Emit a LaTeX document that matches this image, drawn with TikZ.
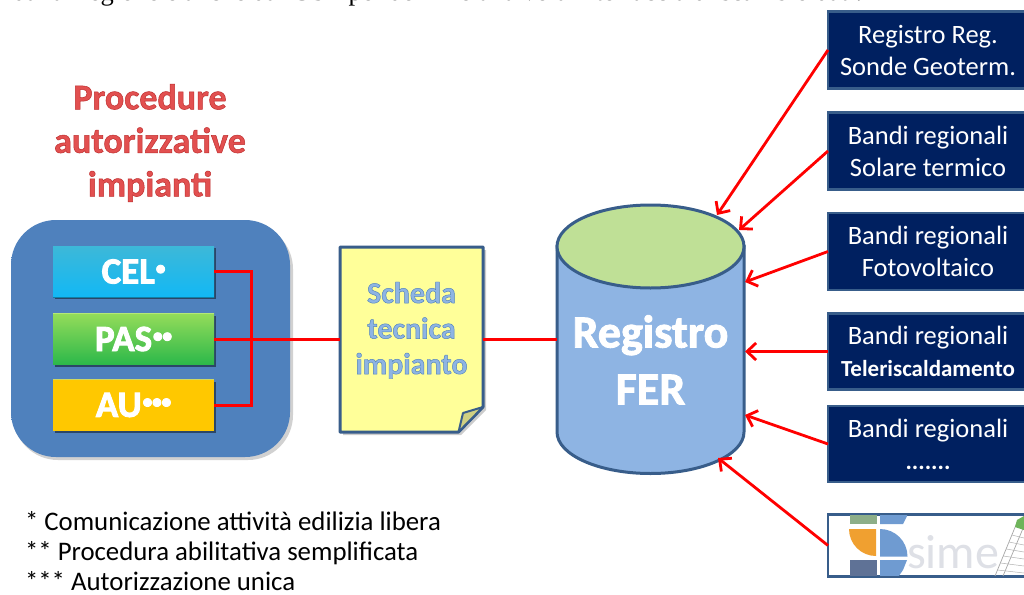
\documentclass[tikz,border=0pt]{standalone}
\usepackage{fontspec}
\setmainfont{Carlito}
\newfontfamily\serifline{Liberation Serif}
\usetikzlibrary{arrows.meta,shadows,calc}
\definecolor{navy}{HTML}{002060}
\definecolor{edgeblue}{HTML}{385D8A}
\definecolor{bigblue}{HTML}{4F81BD}
\definecolor{cylblue}{HTML}{8EB4E3}
\definecolor{cyltop}{HTML}{BFE096}
\definecolor{notey}{HTML}{FFFF99}
\definecolor{titlered}{HTML}{E25050}
\definecolor{foldy}{HTML}{D0D082}
\definecolor{celtop}{HTML}{3DB8D8}
\definecolor{celbot}{HTML}{12B8F5}
\definecolor{celhi}{HTML}{7FF0FF}
\definecolor{cello}{HTML}{1080A8}
\definecolor{pastop}{HTML}{94DC5A}
\definecolor{pasbot}{HTML}{2CB84A}
\definecolor{pashi}{HTML}{B5E878}
\definecolor{paslo}{HTML}{1B8A3A}
\definecolor{aufill}{HTML}{FFC800}
\definecolor{auhi}{HTML}{D0D860}
\definecolor{aulo}{HTML}{C89A00}
\definecolor{logogreen}{HTML}{8DAE88}
\definecolor{logoblue}{HTML}{6F9BD1}
\definecolor{logoorange}{HTML}{F0A030}
\definecolor{logoslate}{HTML}{5F7296}
\definecolor{logotext}{HTML}{DEE0E6}
\definecolor{logochart}{HTML}{6EB45A}
\pgfdeclareverticalshading{panelshade}{100bp}{color(0bp)=(bigblue); color(88bp)=(bigblue); color(100bp)=(cylblue)}
\newcommand{\outl}[3]{\special{pdf:code #2 w #1 RG 2 Tr}#3\special{pdf:code 0 Tr}}
\newcommand{\whitefat}[1]{\outl{1 1 1}{0.9}{#1}}
\newcommand{\supdots}[1]{\raisebox{9pt}{\fontsize{19}{19}\selectfont\kern1pt\whitefat{#1}}}
\tikzset{
  x=1pt,y=-1pt,
  every node/.style={inner sep=0pt,outer sep=0pt},
  bluebox/.style={draw=edgeblue,line width=2.6pt,fill=navy,text=white,minimum width=200pt,
    align=center,font=\fontsize{26.5}{32}\selectfont},
  proc/.style={minimum width=161pt,minimum height=51pt,text=white,
    font=\bfseries\fontsize{37}{37}\selectfont,
    drop shadow={shadow xshift=1.5pt,shadow yshift=-2pt,opacity=.45,fill=black}},
  redline/.style={draw=red,line width=3pt},
  feed/.style={draw=red,line width=2.8pt,-{Straight Barb[length=9pt,width=17pt,line width=2.8pt]}}
}
\begin{document}
\begin{tikzpicture}
\useasboundingbox (0,0) rectangle (1024,594);
\clip (0,0) rectangle (1024,594);
\fill[white] (0,0) rectangle (1024,594);

% clipped line of running text at the very top
\node[anchor=base west,font=\serifline\fontsize{26.5}{26.5}\selectfont,text=black] (topline) at (13,1) {dalla Regione e anche dal GSE per definire una vera interfaccia di scambio dati.};

% title
\node[align=center,text=titlered,font=\bfseries\fontsize{36}{43.5}\selectfont] (title) at (150,143)
  {\outl{0.75 0.18 0.18}{0.5}{Procedure}\\\outl{0.75 0.18 0.18}{0.5}{autorizzative}\\\outl{0.75 0.18 0.18}{0.5}{impianti}};

% group panel
\fill[black,opacity=.18,rounded corners=45pt] (13,224) rectangle (293,460);
\shade[rounded corners=45pt,shading=panelshade] (11,220) rectangle (290,457);
\node (panel) at (150.5,338.5) [minimum width=279pt,minimum height=237pt] {};

% procedure boxes
\node[proc,top color=celtop,bottom color=celbot,
  path picture={\fill[celhi] (path picture bounding box.north west) rectangle ++(161pt,4pt);
                \fill[cello] (path picture bounding box.south west) rectangle ++(161pt,-3pt);}] (cel) at (133.5,271.5)
  {\whitefat{CEL}\supdots{•}};
\node[proc,top color=pastop,bottom color=pasbot,
  path picture={\fill[pashi] (path picture bounding box.north west) rectangle ++(161pt,4pt);
                \fill[paslo] (path picture bounding box.south west) rectangle ++(161pt,-3pt);}] (pas) at (133.5,339)
  {\whitefat{PAS}\supdots{••}};
\node[proc,fill=aufill,
  path picture={\fill[auhi] (path picture bounding box.north west) rectangle ++(161pt,4pt);
                \fill[aulo] (path picture bounding box.south west) rectangle ++(161pt,-3pt);}] (au) at (133.5,405)
  {\whitefat{AU}\supdots{•••}};

% note
\fill[black,opacity=.2] (343,250) -- (486,250) -- (486,410) -- (461,435) -- (343,435) -- cycle;
\draw[edgeblue,line width=3pt,fill=notey,line join=round] (340,247) -- (483,247) -- (483,407) -- (458.5,432) -- (340,432) -- cycle;
\draw[edgeblue,line width=2pt,fill=foldy,line join=round] (483,407) -- (463,413) -- (458.5,432) -- cycle;
\node[minimum width=143pt,minimum height=185pt,align=center,text=cylblue,
  font=\bfseries\fontsize{30}{35.5}\selectfont] (note) at (411.5,339)
  {\outl{0.31 0.51 0.74}{0.45}{Scheda}\\\outl{0.31 0.51 0.74}{0.45}{tecnica}\\\outl{0.31 0.51 0.74}{0.45}{impianto}\\[-13.5pt]};

% cylinder
\draw[edgeblue,line width=3pt,fill=cylblue] (557,246.5) -- (557,432) arc[start angle=180,end angle=360,x radius=93.5pt,y radius=41.5pt] -- (744,246.5) -- cycle;
\draw[edgeblue,line width=3pt,fill=cyltop] (650.5,246.5) ellipse[x radius=93.5pt,y radius=41.5pt];
\node[align=center,text=white,minimum width=187pt,minimum height=270pt,
  font=\bfseries\fontsize{46}{57}\selectfont] (fer) at (650.5,339)
  {\mbox{}\\[17pt]\outl{1 1 1}{0.9}{Registro}\\\outl{1 1 1}{0.9}{FER}};

% sources
\node[bluebox,minimum height=77pt] (b1) at (928,50) {Registro Reg.\\Sonde Geoterm.};
\node[bluebox,minimum height=77pt] (b2) at (928,151) {Bandi regionali\\Solare termico};
\node[bluebox,minimum height=77pt] (b3) at (928,251.5) {Bandi regionali\\Fotovoltaico};
\node[bluebox,minimum height=76pt] (b4) at (928,351.5) {Bandi regionali\\{\bfseries\fontsize{23}{32}\selectfont Teleriscaldamento}};
\node[bluebox,minimum height=76pt] (b5) at (928,444) {Bandi regionali\\{\bfseries\fontsize{24}{32}\selectfont .......}};

% simet logo box
\node[draw=edgeblue,line width=2.6pt,fill=white,minimum width=200pt,minimum height=62pt] (b6) at (928,545.5) {};
\begin{scope}
\clip (829.5,515.5) rectangle (1024,575.5);
\fill[logogreen] (850,510) rectangle (876.5,524);
\fill[logoblue] (880,510) -- (907,510) -- (907,516) -- (903,524) -- (880,524) -- cycle;
\fill[logoorange] (849,529) -- (876,529) -- (876,556) arc[start angle=270,end angle=180,radius=27pt] -- cycle;
\fill[logoblue] (880,529) arc[start angle=90,end angle=0,radius=27.5pt] -- (880,556.5) -- cycle;
\fill[logoslate] (850,560) rectangle (876.5,580);
\fill[logoblue] (880,560) -- (907,560) -- (903,570) -- (896,580) -- (880,580) -- cycle;
\node[anchor=base west,text=logotext,font=\fontsize{48}{48}\selectfont] (simet) at (907,568) {sime};
\draw[gray!70,line width=.7pt] (995,576) -- (1018,520);
\draw[gray!70,line width=.7pt] (1003,576) -- (1024,526);
\foreach \yy in {535,542,549,556,563,570} \draw[gray!60,line width=.5pt] ({1018-(\yy-520)*0.41},\yy) -- (1024,\yy+3);
\fill[logochart] (1017,520) -- (1024,516) -- (1024,530) -- (1015,527) -- cycle;
\end{scope}

% connectors
\coordinate (bus) at (251,339);
\draw[redline] (cel.east) -| (bus) |- (au.east);
\draw[redline] (pas.east) -- (note.west);
\draw[redline] (note.east) -- (fer.west);
\coordinate (t1) at (717,215);
\coordinate (t2) at (739,230);
\coordinate (t3) at (745,282);
\coordinate (t4) at (745,351.5);
\coordinate (t5) at (745,415);
\coordinate (t6) at (718,458);
\draw[feed] (b1.west) -- (t1);
\draw[feed] (b2.west) -- (t2);
\draw[feed] (b3.west) -- (t3);
\draw[feed] (b4.west) -- (t4);
\draw[feed] (b5.west) -- (t5);
\draw[feed] (b6.west) -- (t6);

% legend
\node[anchor=north west,align=left,font=\fontsize{26.8}{30}\selectfont] (legend) at (25,511)
  {* Comunicazione attività edilizia libera\\** Procedura abilitativa semplificata\\*** Autorizzazione unica};
\end{tikzpicture}
\end{document}
